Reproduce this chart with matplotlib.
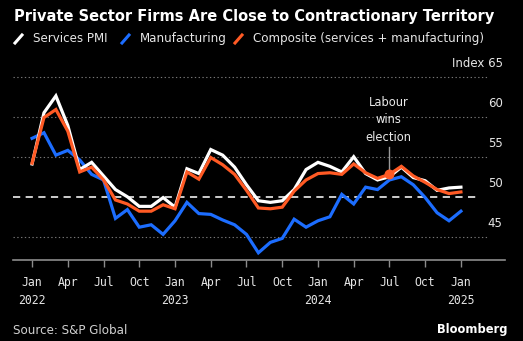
import matplotlib
matplotlib.use("Agg")
import matplotlib.pyplot as plt
from matplotlib.lines import Line2D
import numpy as np

# ---- data (monthly, Jan 2022 .. Jan 2025) ----
services = [54.1, 60.5, 62.6, 58.9, 53.4, 54.3, 52.6, 50.9, 50.0, 48.8, 48.8, 49.9,
            48.7, 53.5, 52.9, 55.9, 55.2, 53.7, 51.5, 49.5, 49.3, 49.5, 50.9, 53.4,
            54.3, 53.8, 53.1, 55.0, 52.9, 52.1, 52.5, 53.7, 52.4, 52.0, 50.8, 51.1,
            51.2]
manufacturing = [57.3, 58.0, 55.2, 55.8, 54.6, 52.8, 52.1, 47.3, 48.4, 46.2, 46.5, 45.3,
                 47.0, 49.3, 47.9, 47.8, 47.1, 46.5, 45.3, 43.0, 44.3, 44.8, 47.2, 46.2,
                 47.0, 47.5, 50.3, 49.1, 51.2, 50.9, 52.1, 52.5, 51.5, 49.9, 48.0, 47.0,
                 48.2]
composite = [54.2, 59.9, 60.9, 58.2, 53.1, 53.7, 52.1, 49.6, 49.1, 48.2, 48.2, 49.0,
             48.5, 53.1, 52.2, 54.9, 54.0, 52.8, 50.8, 48.6, 48.5, 48.7, 50.7, 52.1,
             52.9, 53.0, 52.8, 54.1, 53.0, 52.3, 52.8, 53.8, 52.6, 51.8, 50.9, 50.4,
             50.6]
tick_months = ["Jan", "Apr", "Jul", "Oct"] * 3 + ["Jan"]
tick_years = {0: "2022", 12: "2023", 24: "2024", 36: "2025"}
y_ticks = [45, 50, 55, 60, 65]
event_index = 30  # Jul 2024
event_label = "Labour\nwins\nelection"

W, H = 523, 341
fig = plt.figure(figsize=(W / 100, H / 100), dpi=100)
fig.patch.set_facecolor("black")

# axes in pixel coords
left, right, top, bottom = 13, 505, 72.7, 260
ax = fig.add_axes([left / W, 1 - bottom / H, (right - left) / W, (bottom - top) / H])
ax.set_facecolor("black")
xmin, xmax = -1.6, 39.7
ax.set_xlim(xmin, xmax)
ax.set_ylim(42.1, 65.5)
for s in ["top", "right", "left"]:
    ax.spines[s].set_visible(False)
ax.spines["bottom"].set_color("#8c8c8c")
ax.spines["bottom"].set_linewidth(1.2)

x = np.arange(len(services))

# gridlines
for v in y_ticks:
    if v == 50:
        continue
    ax.hlines(v, xmin, 38.3, colors="#777777", linestyles=(0, (1.2, 2.2)), linewidth=0.8, zorder=1)
ax.hlines(50, xmin, 37.6, colors="#dddddd", linestyles=(0, (4, 3)), linewidth=1.3, zorder=1)

# lines
blue = "#1c6dff"
orange = "#ff5a24"
ax.plot(x, manufacturing, color=blue, lw=2.3, zorder=3, solid_joinstyle="miter")
ax.plot(x, services, color="white", lw=2.3, zorder=4, solid_joinstyle="miter")
ax.plot(x, composite, color=orange, lw=2.3, zorder=5, solid_joinstyle="miter")

# annotation
ev_y = composite[event_index]
ax.plot([event_index, event_index], [ev_y, 56.2], color="#999999", lw=1.0, zorder=2)
ax.scatter([event_index], [ev_y], s=38, color=orange, zorder=6)
ax.text(event_index - 0.05, 59.6, event_label, color="#e8e8e8", ha="center", va="center",
        fontsize=8.3, linespacing=1.45, zorder=6)

# y labels (right, above gridlines)
for v in y_ticks:
    lab = f"Index {v}" if v == 65 else str(v)
    ax.text(xmax - 0.2, v + 0.85, lab, color="#e6e6e6", ha="right", va="bottom", fontsize=8.5)

ax.set_yticks([])
# x ticks
xt = list(range(0, 37, 3))
ax.set_xticks(xt)
ax.set_xticklabels([])
ax.tick_params(axis="x", direction="out", length=5, width=1.0, color="#8c8c8c")
for i, m in zip(xt, tick_months):
    ax.text(i, 42.1 - 2.75, m, color="#e6e6e6", ha="center", va="center", fontsize=8.3,
            family="DejaVu Sans Mono")
for i, yr in tick_years.items():
    ax.text(i, 42.1 - 5.1, yr, color="#e6e6e6", ha="center", va="center", fontsize=8.3,
            family="DejaVu Sans Mono")

# title & legend
fig.text(14 / W, 1 - 16.5 / H, "Private Sector Firms Are Close to Contractionary Territory",
         color="white", fontsize=10.55, fontweight="bold", va="center", ha="left")
leg_y = 1 - 38.5 / H
items = [(15, "white", "Services PMI"), (122, blue, "Manufacturing"), (235, orange, "Composite (services + manufacturing)")]
for px, c, lab in items:
    fig.add_artist(Line2D([px / W, (px + 7) / W], [1 - 43 / H, 1 - 35 / H], color=c, lw=2.2,
                          transform=fig.transFigure))
    fig.text((px + 18) / W, leg_y, lab, color="#e6e6e6", fontsize=8.6, va="center", ha="left")

fig.text(13 / W, 1 - 331 / H, "Source: S&P Global", color="#d0d0d0", fontsize=8.6, va="center", ha="left")
fig.text(507 / W, 1 - 329.5 / H, "Bloomberg", color="white", fontsize=8.3, fontweight="bold",
         va="center", ha="right")

fig.savefig("out.png", dpi=100, facecolor="black")
